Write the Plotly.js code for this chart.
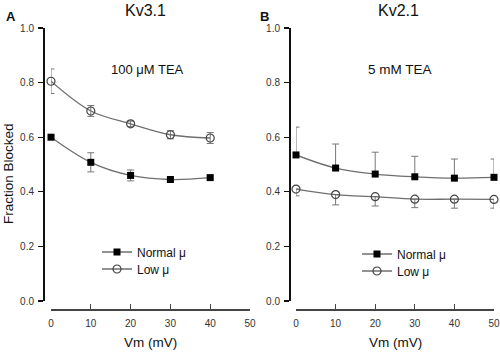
<!DOCTYPE html>
<html>
<head>
<meta charset="utf-8">
<script src="https://cdn.plot.ly/plotly-3.0.1.min.js"></script>
<style>html,body{margin:0;padding:0;background:#fff;}#chart{width:500px;height:353px;}</style>
</head>
<body>
<div id="chart"></div>
<script>
// Panel A: Kv3.1, 100 µM TEA
const voltsA = [0, 10, 20, 30, 40];
const normalA = [0.600, 0.508, 0.460, 0.445, 0.452];
const normalAErr = [0.005, 0.035, 0.020, 0.004, 0.006];
const lowA = [0.805, 0.696, 0.649, 0.609, 0.597];
const lowAErr = [0.045, 0.020, 0.010, 0.015, 0.020];

// Panel B: Kv2.1, 5 mM TEA
const voltsB = [0, 10, 20, 30, 40, 50];
const normalB = [0.535, 0.487, 0.465, 0.455, 0.450, 0.453];
const normalBErrUp = [0.102, 0.088, 0.080, 0.075, 0.070, 0.067];
const lowB = [0.410, 0.390, 0.382, 0.373, 0.373, 0.372];
const lowBErrDown = [0.025, 0.038, 0.034, 0.031, 0.033, 0.032];

const seriesNames = ['Normal \u03bc', 'Low \u03bc'];

const FONT = 'Liberation Sans, Arial, Helvetica, sans-serif';
const W = 500, H = 353;
const px = v => v / W;
const py = v => 1 - v / H;

const lineStyle = {color: '#6e6e6e', width: 1.3, shape: 'spline', smoothing: 1};
const sqMarker = {symbol: 'square', size: 7, color: '#000', line: {color: '#000', width: 0}};
const ciMarker = {symbol: 'circle-open', size: 8, color: '#444', line: {color: '#444', width: 1.2}};
const errStyle = {color: '#777', thickness: 1, width: 3.5};

const traces = [
  {x: voltsA, y: normalA, xaxis: 'x', yaxis: 'y', mode: 'lines+markers', name: seriesNames[0],
   line: lineStyle, marker: sqMarker, legend: 'legend', cliponaxis: false,
   error_y: Object.assign({type: 'data', array: normalAErr, visible: true}, errStyle)},
  {x: voltsA, y: lowA, xaxis: 'x', yaxis: 'y', mode: 'lines+markers', name: seriesNames[1],
   line: lineStyle, marker: ciMarker, legend: 'legend2', cliponaxis: false,
   error_y: Object.assign({type: 'data', array: lowAErr, visible: true}, errStyle)},
  {x: voltsB, y: normalB, xaxis: 'x2', yaxis: 'y2', mode: 'lines+markers', name: seriesNames[0],
   line: lineStyle, marker: sqMarker, legend: 'legend3', cliponaxis: false,
   error_y: Object.assign({type: 'data', symmetric: false, array: normalBErrUp,
     arrayminus: normalBErrUp.map(() => 0), visible: true}, errStyle)},
  {x: voltsB, y: lowB, xaxis: 'x2', yaxis: 'y2', mode: 'lines+markers', name: seriesNames[1],
   line: lineStyle, marker: ciMarker, legend: 'legend4', cliponaxis: false,
   error_y: Object.assign({type: 'data', symmetric: false, array: lowBErrDown.map(() => 0),
     arrayminus: lowBErrDown, visible: true}, errStyle)}
];

const tickFont = {family: FONT, size: 10, color: '#333'};
function yax(pos) {
  return {domain: [py(301), py(28)], range: [0, 1], anchor: 'free', position: pos,
    showline: true, linecolor: '#111', linewidth: 1.5, ticks: 'outside', ticklen: 5,
    tickcolor: '#111', tickwidth: 1.2, dtick: 0.2, tickformat: '.1f', showgrid: false,
    zeroline: false, tickfont: tickFont, ticklabelstandoff: 2, fixedrange: true};
}
function xax(dom) {
  return {domain: dom, range: [0, 50], anchor: 'free', position: py(310),
    showline: true, linecolor: '#444', linewidth: 2, ticks: 'inside', ticklen: 5,
    tickcolor: '#444', tickwidth: 1.2, dtick: 10, showgrid: false, zeroline: false,
    tickfont: tickFont, ticklabelstandoff: 4, fixedrange: true};
}
function leg(x, yc) {
  return {x: px(x), y: py(yc), xanchor: 'left', yanchor: 'middle', bgcolor: 'rgba(0,0,0,0)',
    font: {family: FONT, size: 12, color: '#111'}, borderwidth: 0, itemwidth: 30};
}
const ann = (text, x, y, size, extra) => Object.assign({text: text, x: px(x), y: py(y),
  xref: 'paper', yref: 'paper', showarrow: false, xanchor: 'center', yanchor: 'middle',
  font: {family: FONT, size: size, color: '#111'}}, extra || {});

const layout = {
  width: W, height: H, margin: {l: 0, r: 0, t: 0, b: 0},
  paper_bgcolor: '#fff', plot_bgcolor: 'rgba(0,0,0,0)', showlegend: true,
  xaxis: xax([px(51), px(250)]),
  yaxis: yax(px(43)),
  xaxis2: xax([px(296), px(494)]),
  yaxis2: yax(px(289)),
  legend: leg(97, 252),
  legend2: leg(97, 269),
  legend3: leg(357, 254),
  legend4: leg(357, 271),
  annotations: [
    ann('Kv3.1', 145, 10, 16),
    ann('Kv2.1', 398, 10, 16),
    ann('<b>A</b>', 11, 17, 13),
    ann('<b>B</b>', 264, 17, 13),
    ann('100 \u03bcM TEA', 147, 70, 13),
    ann('5 mM TEA', 400, 70, 13.5),
    ann('Fraction Blocked', 8, 174, 13.5, {textangle: -90}),
    ann('Vm (mV)', 150, 342, 13.5),
    ann('Vm (mV)', 395, 342, 13.5)
  ]
};

Plotly.newPlot('chart', traces, layout, {displayModeBar: false, staticPlot: true});
</script>
</body>
</html>
